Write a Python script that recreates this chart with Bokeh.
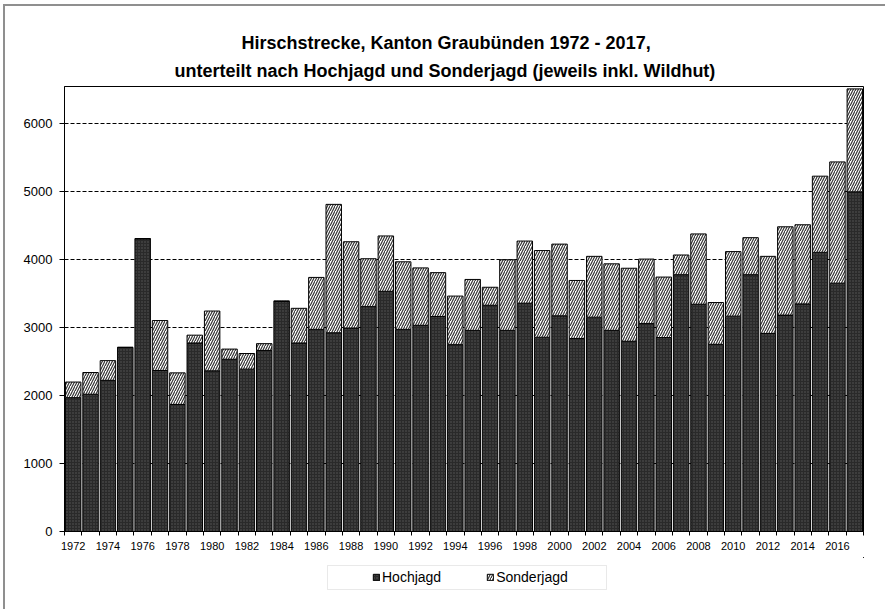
from bokeh.plotting import figure
from bokeh.layouts import column
from bokeh.models import (Range1d, FixedTicker, Title, Legend, LegendItem,
                          ColumnDataSource, BoxAnnotation)
from bokeh.core.properties import value
from bokeh.embed import file_html
from bokeh.resources import INLINE

years = list(range(1972, 2018))
hochjagd = [1970, 2020, 2225, 2710, 4310, 2370, 1870, 2775, 2365, 2535,
            2390, 2665, 3385, 2775, 2975, 2925, 2995, 3310, 3535, 2975,
            3035, 3165, 2750, 2960, 3330, 2960, 3360, 2860, 3175, 2840,
            3155, 2960, 2800, 3060, 2855, 3780, 3345, 2755, 3170, 3780,
            2915, 3185, 3350, 4110, 3655, 5000]
sonderjagd = [230, 320, 290, 0, 0, 735, 465, 115, 880, 150,
              230, 100, 10, 510, 765, 1890, 1270, 705, 815, 995,
              845, 645, 715, 750, 265, 1040, 915, 1275, 1055, 855,
              895, 980, 1075, 950, 890, 290, 1035, 615, 950, 545,
              1135, 1300, 1165, 1120, 1785, 1515]
y_ticks = [0, 1000, 2000, 3000, 4000, 5000, 6000]
x_label_years = list(range(1972, 2017, 2))
series = ["Hochjagd", "Sonderjagd"]
title_lines = ["Hirschstrecke, Kanton Graubünden 1972 - 2017,",
               "unterteilt nach Hochjagd und Sonderjagd (jeweils inkl. Wildhut)"]

FONT = "Liberation Sans"
bar_style = dict(fill_color=["#2a2a2a", "white"],
                 hatch_pattern=["dot", "right_diagonal_line"],
                 hatch_color=["#5a5a5a", "#333333"],
                 hatch_scale=[3, 5], hatch_weight=[1, 1.2],
                 line_color="black", line_width=1)
FRAME_W = 799
BORDERS = dict(min_border_left=59, min_border_right=22)

src = ColumnDataSource(dict(year=years, Hochjagd=hochjagd, Sonderjagd=sonderjagd))

p = figure(output_backend="svg", toolbar_location=None,
           frame_width=FRAME_W, frame_height=445,
           x_range=Range1d(years[0] - 0.5, years[-1] + 0.5),
           y_range=Range1d(0, 6550),
           min_border_top=80, min_border_bottom=26, **BORDERS,
           background_fill_color="white", border_fill_color="white")
p.title = None
p.outline_line_color = "black"
p.outline_line_width = 1

rs = p.vbar_stack(series, x="year", width=0.89, source=src, **bar_style)

# axes
xa = p.xaxis[0]
xa.ticker = FixedTicker(ticks=x_label_years,
                        minor_ticks=[y - 0.5 for y in years] + [years[-1] + 0.5])
xa.major_tick_line_color = None
xa.major_tick_out = 4
xa.major_tick_in = 0
xa.minor_tick_out = 4
xa.minor_tick_in = 0
xa.minor_tick_line_color = "black"
xa.axis_line_color = "black"
xa.major_label_text_font = FONT
xa.major_label_text_font_size = "11px"
xa.major_label_text_color = "black"
xa.major_label_standoff = 6

ya = p.yaxis[0]
ya.ticker = FixedTicker(ticks=y_ticks)
ya.major_tick_out = 5
ya.major_tick_in = 0
ya.minor_tick_line_color = None
ya.axis_line_color = "black"
ya.major_label_text_font = FONT
ya.major_label_text_font_size = "13px"
ya.major_label_text_color = "black"
ya.major_label_standoff = 7

p.xgrid.visible = False
p.ygrid.ticker = FixedTicker(ticks=y_ticks[1:])
p.ygrid.grid_line_color = "black"
p.ygrid.grid_line_dash = "4 2"
p.ygrid.grid_line_width = 1

# titles (second line first: closest to frame)
p.add_layout(Title(text=title_lines[1], align="left", text_font=FONT,
                   text_font_size="18px", text_font_style="bold",
                   text_color="black", standoff=12, offset=110), "above")
p.add_layout(Title(text=title_lines[0], align="left", text_font=FONT,
                   text_font_size="18px", text_font_style="bold",
                   text_color="black", standoff=0, offset=177), "above")

# legend strip: a second figure with the same frame width, in pixel units;
# its y range lies below zero so the bars feeding the legend stay out of view
LG_H = 50
Y0 = -LG_H - 10
lg = figure(output_backend="svg", toolbar_location=None,
            frame_width=FRAME_W, frame_height=LG_H,
            x_range=Range1d(0, FRAME_W), y_range=Range1d(Y0, Y0 + LG_H),
            x_axis_location=None, y_axis_location=None,
            min_border_top=0, min_border_bottom=2, **BORDERS,
            background_fill_color="white", border_fill_color="white")
lg.title = None
lg.grid.visible = False
lg.outline_line_color = None
proxies = lg.vbar_stack(series, x="year", width=0.89, source=src, **bar_style)

lg.add_layout(BoxAnnotation(left=263, right=542, bottom=Y0 + 18, top=Y0 + 42,
                            fill_color=None, line_color="#b5b5b5",
                            line_width=1))
legend = Legend(items=[LegendItem(label=value(s), renderers=[r])
                       for s, r in zip(series, proxies)],
                location=(308, 20), orientation="horizontal",
                glyph_width=8, glyph_height=8, label_standoff=2,
                spacing=45, label_height=20,
                label_text_font=FONT, label_text_font_size="14px",
                label_text_color="black",
                border_line_color=None, background_fill_alpha=0,
                padding=0, margin=0)
lg.add_layout(legend)

layout = column(p, lg, spacing=0,
                styles={"margin-left": "3px", "margin-top": "4px",
                        "border-left": "2px solid #8f8f8f",
                        "border-top": "2px solid #8f8f8f"})

open("out.html", "w").write(file_html(layout, INLINE))
